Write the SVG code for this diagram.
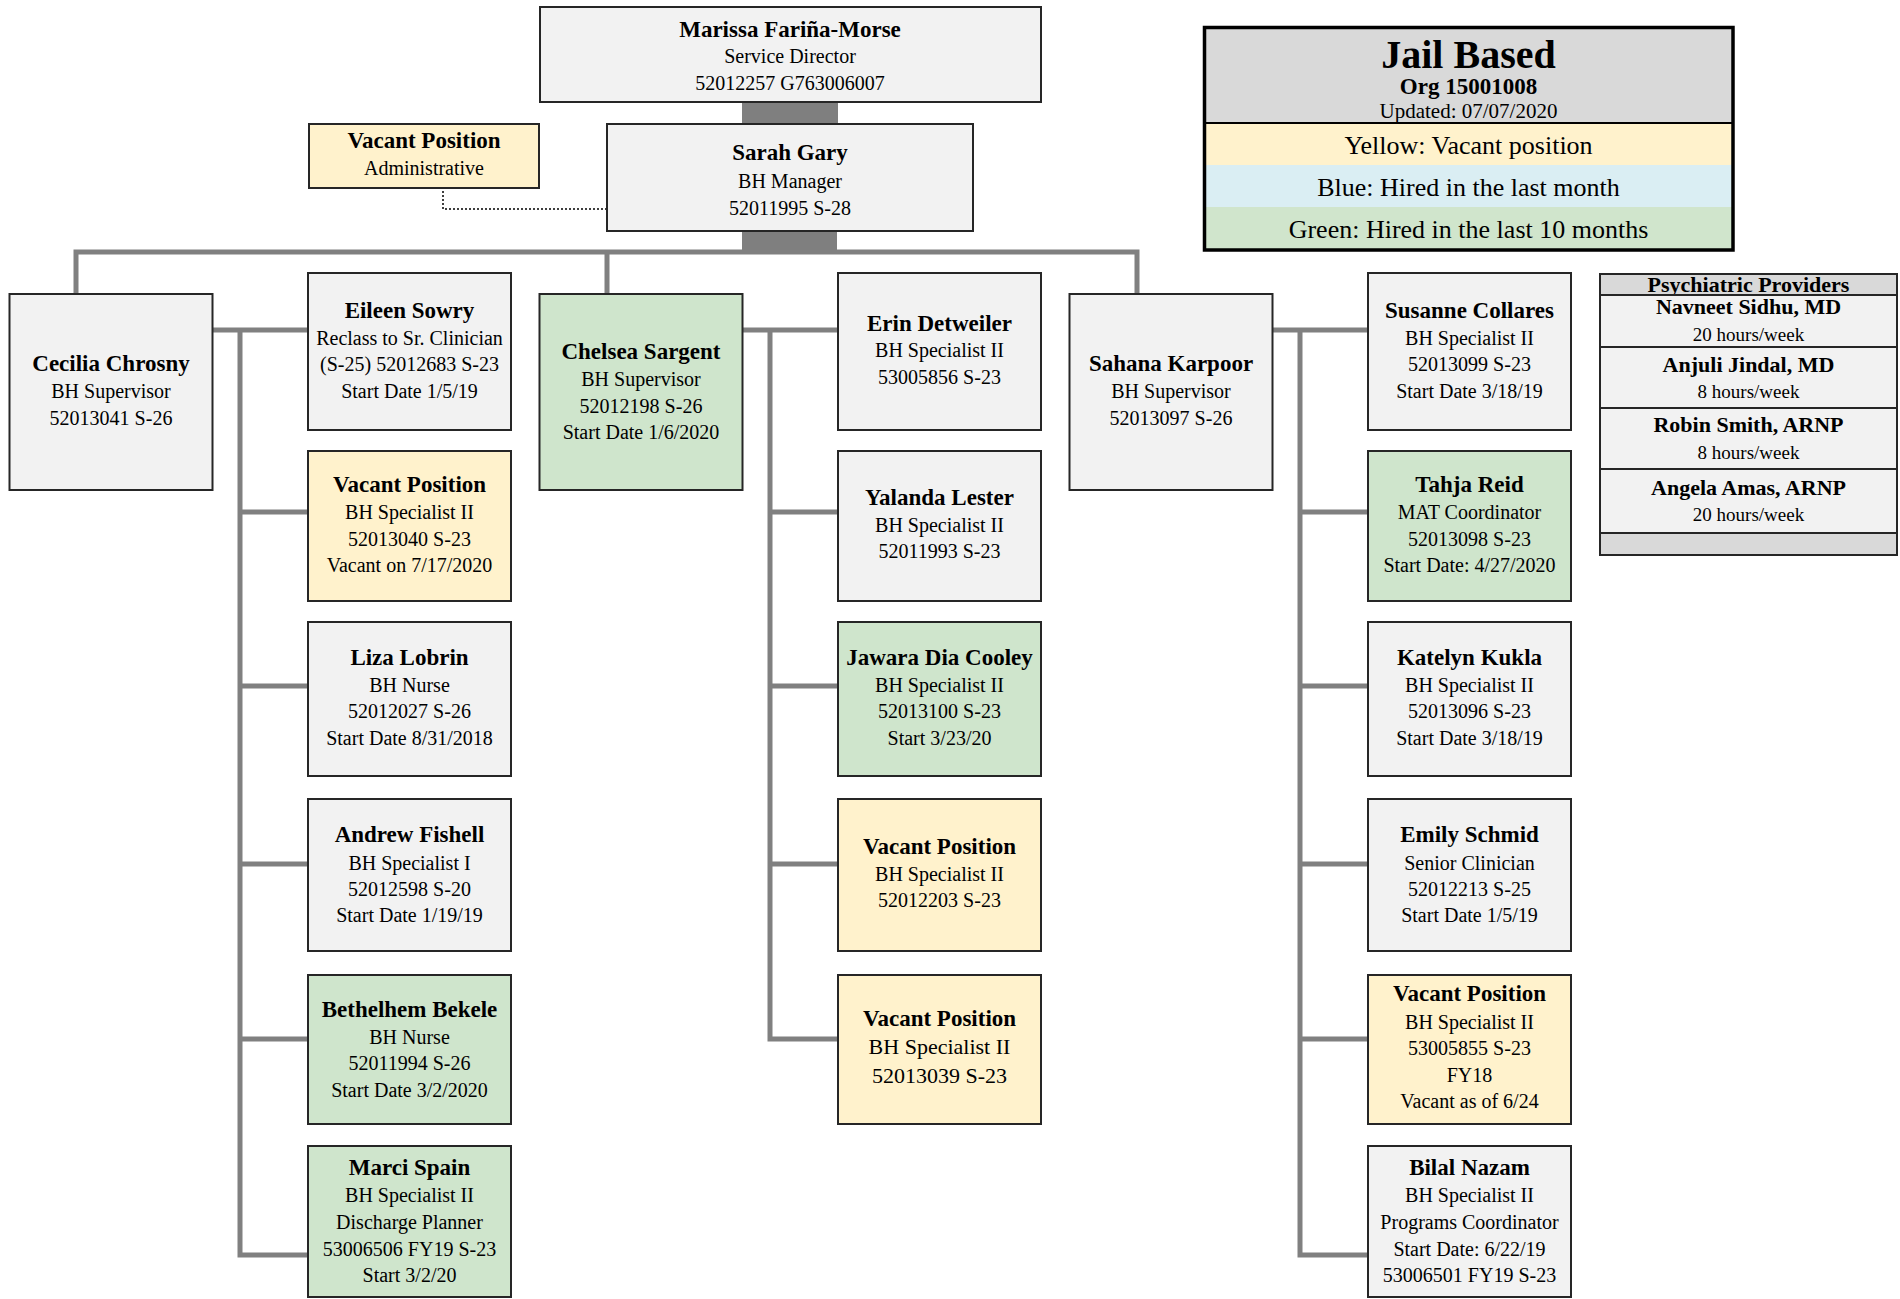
<svg xmlns="http://www.w3.org/2000/svg" width="1900" height="1299" viewBox="0 0 1900 1299">
<style>
.bx{stroke:#262626;stroke-width:2}
.g{fill:#f2f2f2}.y{fill:#fff2cc}.gr{fill:#cfe5cc}.hd{fill:#d9d9d9}
text{font-family:"Liberation Serif","Times New Roman",serif;fill:#000;text-anchor:middle}
.n{font-size:23px;font-weight:bold}
.t{font-size:20px}
.tb{font-size:22px}
.ln{fill:none;stroke:#808080;stroke-width:5;stroke-linejoin:miter;stroke-linecap:butt}
.bar{fill:#7f7f7f}
</style>
<rect width="1900" height="1299" fill="#fff"/>

<g id="connectors">
<rect class="bar" x="742" y="102" width="96" height="21"/>
<rect class="bar" x="742" y="231" width="95" height="21"/>
<path class="ln" d="M76,294 V252 H1137 V294 M607,252 V294"/>
<path class="ln" d="M212,330 H308 M240,330 V1255 H308 M240,512 H308 M240,686 H308 M240,864 H308 M240,1039 H308"/>
<path class="ln" d="M742,330 H838 M770,330 V1039 H838 M770,512 H838 M770,686 H838 M770,864 H838"/>
<path class="ln" d="M1272,330 H1368 M1300,330 V1255 H1368 M1300,512 H1368 M1300,686 H1368 M1300,864 H1368 M1300,1039 H1368"/>
<path d="M443,191 V209 H606" fill="none" stroke="#000" stroke-width="1.5" stroke-dasharray="2,2"/>
</g>

<g id="marissa">
<rect class="bx g" x="540" y="7" width="501" height="95"/>
<text class="n" x="790" y="37">Marissa Fariña-Morse</text>
<text class="t" x="790" y="63">Service Director</text>
<text class="t" x="790" y="90">52012257 G763006007</text>
</g>

<g id="sarah">
<rect class="bx g" x="607" y="124" width="366" height="107"/>
<text class="n" x="790" y="160">Sarah Gary</text>
<text class="t" x="790" y="188">BH Manager</text>
<text class="t" x="790" y="215">52011995 S-28</text>
</g>

<g id="vacant-admin">
<rect class="bx y" x="309" y="124" width="230" height="64"/>
<text class="n" x="424" y="148">Vacant Position</text>
<text class="t" x="424" y="175">Administrative</text>
</g>

<g id="legend">
<rect class="hd" x="1204.5" y="27.5" width="528.5" height="95.5"/>
<rect fill="#fff2cc" x="1204.5" y="123" width="528.5" height="42"/>
<rect fill="#daeef3" x="1204.5" y="165" width="528.5" height="42"/>
<rect fill="#d0e5cc" x="1204.5" y="207" width="528.5" height="43"/>
<line x1="1204.5" y1="123" x2="1733" y2="123" stroke="#000" stroke-width="2"/>
<rect x="1204.5" y="27.5" width="528.5" height="222.5" fill="none" stroke="#000" stroke-width="3.5"/>
<text x="1468.5" y="68" style="font-size:40px;font-weight:bold">Jail Based</text>
<text x="1468.5" y="93.5" style="font-size:23px;font-weight:bold">Org 15001008</text>
<text x="1468.5" y="118" style="font-size:21px">Updated: 07/07/2020</text>
<text x="1468.5" y="154" style="font-size:26px">Yellow: Vacant position</text>
<text x="1468.5" y="196" style="font-size:26px">Blue: Hired in the last month</text>
<text x="1468.5" y="238" style="font-size:26px">Green: Hired in the last 10 months</text>
</g>

<g id="psych-providers">
<rect class="hd" x="1600" y="274" width="297" height="21"/>
<text x="1748.5" y="291.5" style="font-size:22px;font-weight:bold">Psychiatric Providers</text>
<rect class="bx g" x="1600" y="295" width="297" height="52"/>
<rect class="bx g" x="1600" y="347" width="297" height="61"/>
<rect class="bx g" x="1600" y="408" width="297" height="61"/>
<rect class="bx g" x="1600" y="469" width="297" height="64"/>
<rect class="bx hd" x="1600" y="533" width="297" height="22"/>
<rect x="1600" y="274" width="297" height="281" fill="none" stroke="#262626" stroke-width="2"/>
<text class="tb" x="1748.5" y="314" font-weight="bold">Navneet Sidhu, MD</text>
<text x="1748.5" y="341" style="font-size:19px">20 hours/week</text>
<text class="tb" x="1748.5" y="372" font-weight="bold">Anjuli Jindal, MD</text>
<text x="1748.5" y="398" style="font-size:19px">8 hours/week</text>
<text class="tb" x="1748.5" y="432" font-weight="bold">Robin Smith, ARNP</text>
<text x="1748.5" y="459" style="font-size:19px">8 hours/week</text>
<text class="tb" x="1748.5" y="495" font-weight="bold">Angela Amas, ARNP</text>
<text x="1748.5" y="521" style="font-size:19px">20 hours/week</text>
</g>

<!-- Column A -->
<g id="cecilia">
<rect class="bx g" x="9.5" y="294" width="203" height="196"/>
<text class="n" x="111" y="371">Cecilia Chrosny</text>
<text class="t" x="111" y="398">BH Supervisor</text>
<text class="t" x="111" y="425">52013041 S-26</text>
</g>
<g id="eileen">
<rect class="bx g" x="308" y="273" width="203" height="157"/>
<text class="n" x="409.5" y="318">Eileen Sowry</text>
<text class="t" x="409.5" y="344.5">Reclass to Sr. Clinician</text>
<text class="t" x="409.5" y="371">(S-25) 52012683 S-23</text>
<text class="t" x="409.5" y="397.5">Start Date 1/5/19</text>
</g>
<g id="vacant-52013040">
<rect class="bx y" x="308" y="451" width="203" height="150"/>
<text class="n" x="409.5" y="492">Vacant Position</text>
<text class="t" x="409.5" y="519">BH Specialist II</text>
<text class="t" x="409.5" y="546">52013040 S-23</text>
<text class="t" x="409.5" y="572">Vacant on 7/17/2020</text>
</g>
<g id="liza">
<rect class="bx g" x="308" y="622" width="203" height="154"/>
<text class="n" x="409.5" y="665">Liza Lobrin</text>
<text class="t" x="409.5" y="692">BH Nurse</text>
<text class="t" x="409.5" y="718">52012027 S-26</text>
<text class="t" x="409.5" y="745">Start Date 8/31/2018</text>
</g>
<g id="andrew">
<rect class="bx g" x="308" y="799" width="203" height="152"/>
<text class="n" x="409.5" y="842">Andrew Fishell</text>
<text class="t" x="409.5" y="870">BH Specialist I</text>
<text class="t" x="409.5" y="896">52012598 S-20</text>
<text class="t" x="409.5" y="922">Start Date 1/19/19</text>
</g>
<g id="bethelhem">
<rect class="bx gr" x="308" y="975" width="203" height="149"/>
<text class="n" x="409.5" y="1017">Bethelhem Bekele</text>
<text class="t" x="409.5" y="1044">BH Nurse</text>
<text class="t" x="409.5" y="1070">52011994 S-26</text>
<text class="t" x="409.5" y="1097">Start Date 3/2/2020</text>
</g>
<g id="marci">
<rect class="bx gr" x="308" y="1146" width="203" height="151"/>
<text class="n" x="409.5" y="1175">Marci Spain</text>
<text class="t" x="409.5" y="1202">BH Specialist II</text>
<text class="t" x="409.5" y="1229">Discharge Planner</text>
<text class="t" x="409.5" y="1256">53006506 FY19 S-23</text>
<text class="t" x="409.5" y="1282">Start 3/2/20</text>
</g>

<!-- Column B -->
<g id="chelsea">
<rect class="bx gr" x="539.5" y="294" width="203" height="196"/>
<text class="n" x="641" y="359">Chelsea Sargent</text>
<text class="t" x="641" y="386">BH Supervisor</text>
<text class="t" x="641" y="413">52012198 S-26</text>
<text class="t" x="641" y="439">Start Date 1/6/2020</text>
</g>
<g id="erin">
<rect class="bx g" x="838" y="273" width="203" height="157"/>
<text class="n" x="939.5" y="331">Erin Detweiler</text>
<text class="t" x="939.5" y="357">BH Specialist II</text>
<text class="t" x="939.5" y="384">53005856 S-23</text>
</g>
<g id="yalanda">
<rect class="bx g" x="838" y="451" width="203" height="150"/>
<text class="n" x="939.5" y="505">Yalanda Lester</text>
<text class="t" x="939.5" y="532">BH Specialist II</text>
<text class="t" x="939.5" y="558">52011993 S-23</text>
</g>
<g id="jawara">
<rect class="bx gr" x="838" y="622" width="203" height="154"/>
<text class="n" x="939.5" y="665">Jawara Dia Cooley</text>
<text class="t" x="939.5" y="692">BH Specialist II</text>
<text class="t" x="939.5" y="718">52013100 S-23</text>
<text class="t" x="939.5" y="745">Start 3/23/20</text>
</g>
<g id="vacant-52012203">
<rect class="bx y" x="838" y="799" width="203" height="152"/>
<text class="n" x="939.5" y="854">Vacant Position</text>
<text class="t" x="939.5" y="881">BH Specialist II</text>
<text class="t" x="939.5" y="907">52012203 S-23</text>
</g>
<g id="vacant-52013039">
<rect class="bx y" x="838" y="975" width="203" height="149"/>
<text class="n" x="939.5" y="1026">Vacant Position</text>
<text class="tb" x="939.5" y="1054">BH Specialist II</text>
<text class="tb" x="939.5" y="1083">52013039 S-23</text>
</g>

<!-- Column C -->
<g id="sahana">
<rect class="bx g" x="1069.5" y="294" width="203" height="196"/>
<text class="n" x="1171" y="371">Sahana Karpoor</text>
<text class="t" x="1171" y="398">BH Supervisor</text>
<text class="t" x="1171" y="425">52013097 S-26</text>
</g>
<g id="susanne">
<rect class="bx g" x="1368" y="273" width="203" height="157"/>
<text class="n" x="1469.5" y="318">Susanne Collares</text>
<text class="t" x="1469.5" y="344.5">BH Specialist II</text>
<text class="t" x="1469.5" y="371">52013099 S-23</text>
<text class="t" x="1469.5" y="397.5">Start Date 3/18/19</text>
</g>
<g id="tahja">
<rect class="bx gr" x="1368" y="451" width="203" height="150"/>
<text class="n" x="1469.5" y="492">Tahja Reid</text>
<text class="t" x="1469.5" y="519">MAT Coordinator</text>
<text class="t" x="1469.5" y="546">52013098 S-23</text>
<text class="t" x="1469.5" y="572">Start Date: 4/27/2020</text>
</g>
<g id="katelyn">
<rect class="bx g" x="1368" y="622" width="203" height="154"/>
<text class="n" x="1469.5" y="665">Katelyn Kukla</text>
<text class="t" x="1469.5" y="692">BH Specialist II</text>
<text class="t" x="1469.5" y="718">52013096 S-23</text>
<text class="t" x="1469.5" y="745">Start Date 3/18/19</text>
</g>
<g id="emily">
<rect class="bx g" x="1368" y="799" width="203" height="152"/>
<text class="n" x="1469.5" y="842">Emily Schmid</text>
<text class="t" x="1469.5" y="870">Senior Clinician</text>
<text class="t" x="1469.5" y="896">52012213 S-25</text>
<text class="t" x="1469.5" y="922">Start Date 1/5/19</text>
</g>
<g id="vacant-53005855">
<rect class="bx y" x="1368" y="975" width="203" height="149"/>
<text class="n" x="1469.5" y="1001">Vacant Position</text>
<text class="t" x="1469.5" y="1029">BH Specialist II</text>
<text class="t" x="1469.5" y="1055">53005855 S-23</text>
<text class="t" x="1469.5" y="1082">FY18</text>
<text class="t" x="1469.5" y="1108">Vacant as of 6/24</text>
</g>
<g id="bilal">
<rect class="bx g" x="1368" y="1146" width="203" height="151"/>
<text class="n" x="1469.5" y="1175">Bilal Nazam</text>
<text class="t" x="1469.5" y="1202">BH Specialist II</text>
<text class="t" x="1469.5" y="1229">Programs Coordinator</text>
<text class="t" x="1469.5" y="1256">Start Date: 6/22/19</text>
<text class="t" x="1469.5" y="1282">53006501 FY19 S-23</text>
</g>
</svg>
